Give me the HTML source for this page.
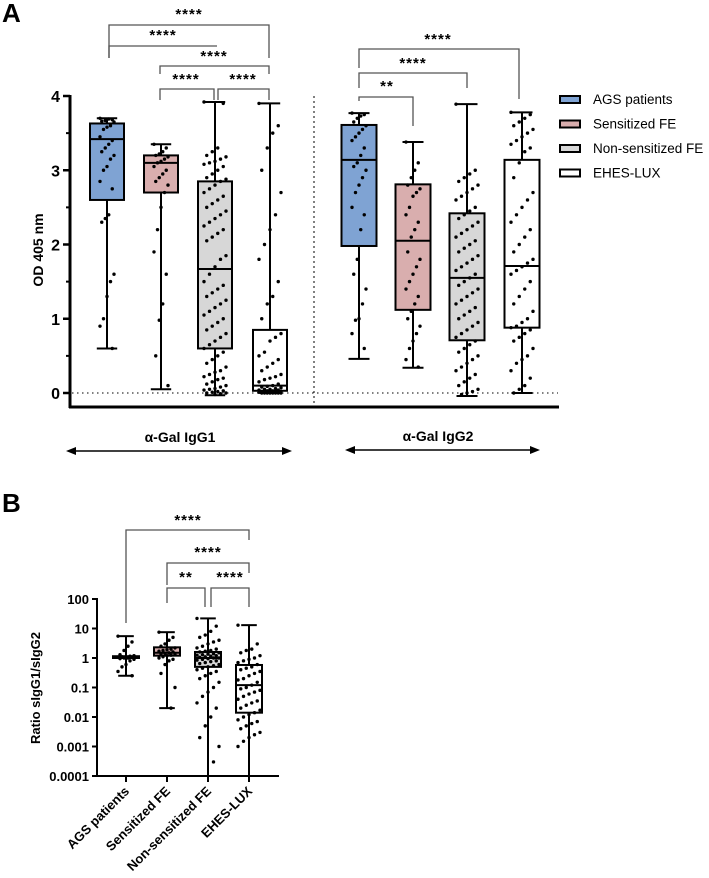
<!DOCTYPE html>
<html><head><meta charset="utf-8"><style>
html,body{margin:0;padding:0;background:#fff;}
svg{display:block;font-family:"Liberation Sans",Arial,sans-serif;}
</style></head><body>
<svg id="chart" width="709" height="878" viewBox="0 0 709 878"></svg>
<script>
// ---------- Panel A data ----------
const groupsA = ["AGS patients","Sensitized FE","Non-sensitized FE","EHES-LUX"];
const colorsA = ["#7fa3d3","#d9aeae","#d7d7d7","#ffffff"];
const ticksA = [0,1,2,3,4];
// box stats: min, q1, median, q3, max
const igg1Stats = [[0.6,2.6,3.42,3.63,3.7],[0.05,2.7,3.1,3.2,3.35],[-0.03,0.6,1.67,2.85,3.92],[0,0.03,0.1,0.85,3.9]];
const igg2Stats = [[0.46,1.98,3.14,3.61,3.77],[0.34,1.12,2.05,2.81,3.38],[-0.04,0.71,1.55,2.42,3.89],[0,0.88,1.71,3.14,3.78]];
const igg1AGS = [3.7,3.68,3.69,3.67,3.66,3.65,3.6,3.58,3.55,3.45,3.4,3.35,3.3,3.25,3.2,3.15,3.05,3.0,2.85,2.75,2.4,2.35,2.3,1.6,1.5,1.3,1.0,0.9,0.6];
const igg1Sens = [3.35,3.3,3.25,3.22,3.2,3.18,3.15,3.12,3.1,3.05,3.0,2.95,2.9,2.85,2.8,2.7,2.5,2.2,1.9,1.6,1.2,0.98,0.5,0.1];
const igg1Non = [3.92,3.9,3.3,3.25,3.2,3.18,3.15,3.12,3.1,3.08,3.05,3.0,2.95,2.9,2.88,2.85,2.8,2.75,2.7,2.65,2.6,2.55,2.5,2.45,2.4,2.35,2.3,2.25,2.2,2.15,2.1,2.05,1.85,1.8,1.7,1.6,1.5,1.45,1.4,1.35,1.3,1.25,1.2,1.15,1.1,1.05,1.0,0.95,0.9,0.85,0.8,0.75,0.7,0.65,0.6,0.55,0.5,0.45,0.4,0.35,0.3,0.28,0.25,0.22,0.2,0.18,0.15,0.12,0.1,0.08,0.06,0.05,0.04,0.03,0.02,0.01,0,0,-0.01,-0.02];
const igg1EHES = [3.9,3.6,3.5,3.3,3.0,2.7,2.4,2.2,2.0,1.8,1.5,1.3,1.2,1.0,0.8,0.75,0.7,0.55,0.5,0.45,0.4,0.35,0.3,0.25,0.22,0.2,0.18,0.15,0.12,0.1,0.09,0.08,0.07,0.06,0.05,0.05,0.04,0.04,0.03,0.03,0.02,0.02,0.02,0.01,0.01,0.01,0,0,0,0,0,0,0,0];
const igg2AGS = [3.77,3.75,3.73,3.7,3.65,3.6,3.55,3.5,3.45,3.4,3.3,3.2,3.1,3.05,3.0,2.9,2.8,2.7,2.5,2.4,2.2,1.8,1.6,1.4,1.2,1.0,0.98,0.8,0.6];
const igg2Sens = [3.38,3.1,3.0,2.9,2.8,2.75,2.7,2.65,2.5,2.4,2.3,2.2,2.1,1.9,1.8,1.7,1.6,1.5,1.4,1.3,1.2,1.1,1.0,0.9,0.8,0.7,0.6,0.45,0.35];
const igg2Non = [3.89,3.0,2.95,2.9,2.85,2.8,2.75,2.7,2.65,2.6,2.5,2.45,2.4,2.35,2.3,2.25,2.2,2.15,2.1,2.05,2.0,1.95,1.9,1.85,1.8,1.75,1.7,1.65,1.6,1.55,1.5,1.45,1.4,1.35,1.3,1.25,1.2,1.15,1.1,1.05,1.0,0.95,0.9,0.85,0.8,0.75,0.7,0.65,0.6,0.55,0.5,0.45,0.4,0.35,0.3,0.25,0.2,0.15,0.1,0.05,0.02,0,-0.02];
const igg2EHES = [3.78,3.75,3.7,3.65,3.6,3.55,3.5,3.45,3.4,3.35,3.3,3.25,3.1,2.9,2.7,2.6,2.5,2.4,2.3,2.2,2.1,2.0,1.9,1.8,1.75,1.7,1.65,1.6,1.5,1.4,1.3,1.2,1.1,1.0,0.95,0.9,0.88,0.85,0.8,0.75,0.7,0.6,0.5,0.45,0.4,0.3,0.2,0.1,0.05,0];
// ---------- Panel B data ----------
const groupsB = ["AGS patients","Sensitized FE","Non-sensitized FE","EHES-LUX"];
const ticksB = [0.0001,0.001,0.01,0.1,1,10,100];
const tickLabelsB = ["0.0001","0.001","0.01","0.1","1","10","100"];
const ratioStats = [[0.25,1.0,1.1,1.15,5.5],[0.02,1.2,1.5,2.3,7.5],[0.0001,0.5,1.0,1.6,22],[0.0001,0.014,0.12,0.58,13]];
const ratioAGS = [5.5,3.5,2.5,1.8,1.3,1.2,1.15,1.1,1.1,1.08,1.05,1.0,1.0,0.95,0.9,0.8,0.6,0.5,0.35,0.25];
const ratioSens = [7.5,5,4,3,2.5,2.2,2.0,1.9,1.8,1.7,1.6,1.5,1.45,1.4,1.3,1.25,1.2,1.1,1.0,0.9,0.8,0.6,0.3,0.1,0.02];
const ratioNon = [22,12,8,6,5,4,3.5,3,2.5,2.2,2,1.8,1.7,1.6,1.5,1.4,1.35,1.3,1.25,1.2,1.15,1.1,1.05,1.0,1.0,0.95,0.9,0.85,0.8,0.75,0.7,0.65,0.6,0.55,0.5,0.45,0.4,0.35,0.3,0.25,0.2,0.15,0.1,0.07,0.05,0.03,0.02,0.01,0.005,0.002,0.001,0.0003];
const ratioEHES = [13,3,2,1.8,1.5,1.2,1.0,0.9,0.8,0.7,0.6,0.5,0.45,0.4,0.35,0.3,0.25,0.2,0.18,0.15,0.12,0.1,0.09,0.08,0.07,0.06,0.05,0.04,0.035,0.03,0.025,0.02,0.017,0.014,0.012,0.01,0.008,0.007,0.006,0.005,0.004,0.003,0.0025,0.002,0.0015,0.001];

const NS = "http://www.w3.org/2000/svg";
const svg = document.getElementById('chart');
function mk(tag, attrs, parent){const e=document.createElementNS(NS,tag);for(const k in attrs)e.setAttribute(k,attrs[k]);(parent||svg).appendChild(e);return e;}
function txt(s,attrs,parent){const e=mk('text',attrs,parent);e.textContent=s;return e;}

// ---------- Panel A ----------
const yA = v => 393 - v*74.25;
const xA1 = [107,161,215,270], xA2 = [359,413,467,522];
const gA = mk('g',{});


const lblA = txt('A',{x:2,y:22,'font-size':26,'font-weight':'bold'},gA);



const zl = mk('line',{x1:72,x2:558,y1:yA(0),y2:yA(0),stroke:'#000','stroke-width':1,'stroke-dasharray':'1.5,3.5'},gA);


const dv = mk('line',{x1:314,x2:314,y1:96,y2:407,stroke:'#000','stroke-width':1,'stroke-dasharray':'2,3'},gA);



function drawBox(g, cx, st, w, fill, yf, name){
  const bg = mk('g',{},g);
  
  
  mk('line',{x1:cx,x2:cx,y1:yf(st[0]),y2:yf(st[4]),stroke:'#000','stroke-width':2},bg);
  mk('line',{x1:cx-w*0.3,x2:cx+w*0.3,y1:yf(st[0]),y2:yf(st[0]),stroke:'#000','stroke-width':2},bg);
  mk('line',{x1:cx-w*0.3,x2:cx+w*0.3,y1:yf(st[4]),y2:yf(st[4]),stroke:'#000','stroke-width':2},bg);
  mk('rect',{x:cx-w/2,y:yf(st[3]),width:w,height:yf(st[1])-yf(st[3]),fill:fill,stroke:'#000','stroke-width':2},bg);
  mk('line',{x1:cx-w/2,x2:cx+w/2,y1:yf(st[2]),y2:yf(st[2]),stroke:'#000','stroke-width':2},bg);
  return bg;
}
function drawDots(g, cx, vals, spread, yf, name){
  const dg = mk('g',{},g);
  
  
  vals.forEach((v,i)=>{
    const off = (((i*7)%9)-4)/4*spread;
    const c = mk('circle',{cx:cx+off,cy:yf(v),r:1.7,fill:'#000'},dg);
    
    
  });
}
const dots1=[igg1AGS,igg1Sens,igg1Non,igg1EHES], dots2=[igg2AGS,igg2Sens,igg2Non,igg2EHES];
const keys=['ags','sensitized','non-sensitized','ehes-lux'];
for(let i=0;i<4;i++){
  drawBox(gA,xA1[i],igg1Stats[i],34,colorsA[i],yA,'igg1-box-'+keys[i]);
  drawDots(gA,xA1[i],dots1[i],i>=2?11:7,yA,'igg1-dots-'+keys[i]);
  drawBox(gA,xA2[i],igg2Stats[i],35,colorsA[i],yA,'igg2-box-'+keys[i]);
  drawDots(gA,xA2[i],dots2[i],i>=2?11:7,yA,'igg2-dots-'+keys[i]);
}
const axA = mk('g',{},gA);


mk('line',{x1:70,x2:70,y1:95,y2:408,stroke:'#000','stroke-width':3},axA);
mk('line',{x1:69,x2:559,y1:407,y2:407,stroke:'#000','stroke-width':3},axA);
ticksA.forEach(t=>{
  mk('line',{x1:63,x2:70,y1:yA(t),y2:yA(t),stroke:'#000','stroke-width':2.5},axA);
  if(t<4) mk('line',{x1:66,x2:70,y1:yA(t+0.5),y2:yA(t+0.5),stroke:'#000','stroke-width':2},axA);
  const tl = txt(String(t),{x:60,y:yA(t)+6,'font-size':16,'font-weight':'bold','text-anchor':'end'},axA);
  
  
});
const yt = txt('OD 405 nm',{x:0,y:0,'font-size':14,'font-weight':'bold','text-anchor':'middle',transform:'translate(43,250) rotate(-90)'},axA);



function bracket(g,x1,x2,y,l1,l2,label,lx,ly,name){
  const bg = mk('g',{},g);
  
  
  let d='M'+x1+' '+l1+' L'+x1+' '+y+' L'+x2+' '+y+(l2!==null?' L'+x2+' '+l2:'');
  mk('path',{d:d,fill:'none',stroke:'#555','stroke-width':1.3},bg);
  txt(label,{x:lx,y:ly,'font-size':15,'font-weight':'bold','text-anchor':'middle','letter-spacing':'1'},bg);
}
bracket(gA,109,269,25,58,58,'****',189,19,'sig-igg1-ags-ehes');
bracket(gA,109,217,46,58,null,'****',163,40,'sig-igg1-ags-non');
bracket(gA,160,269,66,74,74,'****',214,61,'sig-igg1-sens-ehes');
bracket(gA,160,214,89,100,100,'****',186,84,'sig-igg1-sens-non');
bracket(gA,218,269,89,100,100,'****',243,84,'sig-igg1-non-ehes');
bracket(gA,359,519,49,68,99,'****',438,44,'sig-igg2-ags-ehes');
bracket(gA,359,467,73,88,88,'****',413,68,'sig-igg2-ags-non');
bracket(gA,359,413,97,101,126,'**',387,91,'sig-igg2-ags-sens');

const lg = mk('g',{},gA);


groupsA.forEach((n,i)=>{
  const e = mk('g',{},lg);
  
  
  mk('rect',{x:560,y:96+i*24.5,width:20,height:7,fill:colorsA[i],stroke:'#000','stroke-width':2},e);
  txt(n,{x:593,y:104+i*24.5,'font-size':13.5},e);
});

function arrow(g,x1,x2,y,label,lx,name){
  const ag = mk('g',{},g);
  
  
  mk('line',{x1:x1+6,x2:x2-6,y1:y,y2:y,stroke:'#000','stroke-width':1.5},ag);
  mk('path',{d:`M${x1} ${y} L${x1+10} ${y-4} L${x1+10} ${y+4}Z`,fill:'#000'},ag);
  mk('path',{d:`M${x2} ${y} L${x2-10} ${y-4} L${x2-10} ${y+4}Z`,fill:'#000'},ag);
  txt(label,{x:lx,y:y-9,'font-size':14,'font-weight':'bold','text-anchor':'middle'},ag);
}
arrow(gA,66,292,451,'α-Gal IgG1',180,'igg1-group-label');
arrow(gA,345,540,450,'α-Gal IgG2',438,'igg2-group-label');

// ---------- Panel B ----------
const yB = v => 776 - (Math.log10(v)+4)*29.5;
const xB = [126,167,208,249];
const gB = mk('g',{});


const lblB = txt('B',{x:2,y:512,'font-size':26,'font-weight':'bold'},gB);


const dotsB=[ratioAGS,ratioSens,ratioNon,ratioEHES];
for(let i=0;i<4;i++){
  drawBox(gB,xB[i],ratioStats[i],26,i===1?'#d9aeae':(i===2?'#d7d7d7':'#fff'),yB,'ratio-box-'+keys[i]);
  drawDots(gB,xB[i],dotsB[i],i>=2?11:8,yB,'ratio-dots-'+keys[i]);
}
const axB = mk('g',{},gB);


mk('line',{x1:97,x2:97,y1:598,y2:777,stroke:'#000','stroke-width':2},axB);
mk('line',{x1:96,x2:279,y1:776,y2:776,stroke:'#000','stroke-width':2},axB);
ticksB.forEach((t,i)=>{
  mk('line',{x1:92,x2:97,y1:yB(t),y2:yB(t),stroke:'#000','stroke-width':2},axB);
  const tl = txt(tickLabelsB[i],{x:89,y:yB(t)+5,'font-size':13,'font-weight':'bold','text-anchor':'end'},axB);
  
  
});
groupsB.forEach((n,i)=>{
  mk('line',{x1:xB[i],x2:xB[i],y1:776,y2:782,stroke:'#000','stroke-width':2},axB);
  const tl = txt(n,{x:0,y:0,'font-size':13,'font-weight':'bold','text-anchor':'end',transform:`translate(${xB[i]+4},${792}) rotate(-45)`},axB);
  
  
});
const ytB = txt('Ratio sIgG1/sIgG2',{x:0,y:0,'font-size':13,'font-weight':'bold','text-anchor':'middle',transform:'translate(40,688) rotate(-90)'},axB);


bracket(gB,126,249,530,623,540,'****',188,525,'sig-ratio-ags-ehes');
bracket(gB,167,249,563,585,573,'****',208,557,'sig-ratio-sens-ehes');
bracket(gB,167,205,588,603,607,'**',186,582,'sig-ratio-sens-non');
bracket(gB,211,249,588,607,607,'****',230,582,'sig-ratio-non-ehes');
</script>
</body></html>
